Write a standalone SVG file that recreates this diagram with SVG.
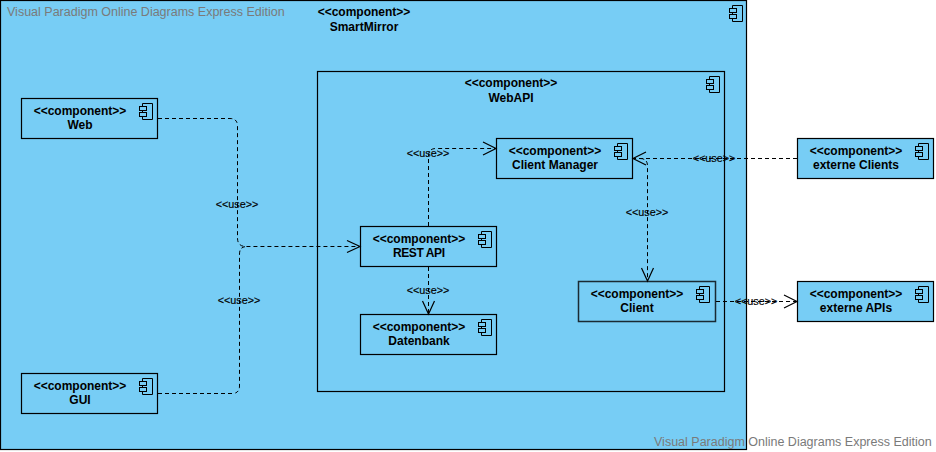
<svg xmlns="http://www.w3.org/2000/svg" width="936" height="452" viewBox="0 0 936 452">
<style>
.box{fill:#77cdf5;stroke:#000;stroke-width:1.2}
.ico{fill:#77cdf5;stroke:#000;stroke-width:1}
.t{font-family:"Liberation Sans",Arial,sans-serif;font-size:12px;font-weight:bold;text-anchor:middle;fill:#000}
.u{font-family:"Liberation Sans",Arial,sans-serif;font-size:10.800px;text-anchor:middle;fill:#000;stroke:#000;stroke-width:.15}
.wm{font-family:"Liberation Sans",Arial,sans-serif;font-size:12.500px;fill:#7a7a7a}
.c{fill:none;stroke:#000;stroke-width:1;stroke-dasharray:4 3}
.h{fill:none;stroke:#000;stroke-width:1.2}
</style>
<defs>
<g id="icon"><path class="ico" d="M3 0H13V16H3Z"/><rect class="ico" x="0" y="3" width="7" height="4"/><rect class="ico" x="0" y="9" width="7" height="4"/></g>
</defs>
<rect width="936" height="452" fill="#fff"/>
<g id="SmartMirror"><rect class="box" x="0.5" y="0.5" width="746" height="449"/><use href="#icon" x="729.5" y="5.500"/><text class="t" x="364" y="16">&lt;&lt;component&gt;&gt;</text><text class="t" x="364" y="31">SmartMirror</text></g>
<g id="WebAPI"><rect class="box" x="317.5" y="71.5" width="407" height="320"/><use href="#icon" x="706.5" y="76.500"/><text class="t" x="511" y="87">&lt;&lt;component&gt;&gt;</text><text class="t" x="511" y="102">WebAPI</text></g>
<g id="Web"><rect class="box" x="21.5" y="98.5" width="136" height="40"/><use href="#icon" x="139.5" y="103.500"/><text class="t" x="80" y="115">&lt;&lt;component&gt;&gt;</text><text class="t" x="80" y="129">Web</text></g>
<g id="GUI"><rect class="box" x="21.5" y="373.5" width="136" height="40"/><use href="#icon" x="139.5" y="378.500"/><text class="t" x="80" y="390">&lt;&lt;component&gt;&gt;</text><text class="t" x="80" y="404">GUI</text></g>
<g id="ClientManager"><rect class="box" x="496.5" y="138.5" width="136" height="40"/><use href="#icon" x="614.5" y="143.500"/><text class="t" x="555" y="155">&lt;&lt;component&gt;&gt;</text><text class="t" x="555" y="169">Client Manager</text></g>
<g id="RESTAPI"><rect class="box" x="360.5" y="226.5" width="136" height="40"/><use href="#icon" x="478.5" y="231.500"/><text class="t" x="419" y="243">&lt;&lt;component&gt;&gt;</text><text class="t" x="419" y="257" textLength="52">REST API</text></g>
<g id="Datenbank"><rect class="box" x="360.5" y="314.5" width="136" height="40"/><use href="#icon" x="478.5" y="319.500"/><text class="t" x="419" y="331">&lt;&lt;component&gt;&gt;</text><text class="t" x="419" y="345">Datenbank</text></g>
<g id="Client"><rect class="box" style="stroke-width:1.500;stroke:#1a2a33" x="578.5" y="281.5" width="137" height="40"/><use href="#icon" x="696.5" y="286.500"/><text class="t" x="637" y="298">&lt;&lt;component&gt;&gt;</text><text class="t" x="637" y="312">Client</text></g>
<g id="externeClients"><rect class="box" x="797.5" y="138.5" width="136" height="40"/><use href="#icon" x="915.5" y="143.500"/><text class="t" x="856" y="155">&lt;&lt;component&gt;&gt;</text><text class="t" x="856" y="169">externe Clients</text></g>
<g id="externeAPIs"><rect class="box" x="797.5" y="281.5" width="136" height="40"/><use href="#icon" x="915.5" y="286.500"/><text class="t" x="856" y="298">&lt;&lt;component&gt;&gt;</text><text class="t" x="856" y="312">externe APIs</text></g>
<g id="connectors">
<path class="c" d="M158 118.500H230Q237.500 118.500 237.500 126V238Q237.500 246.500 246 246.500H360"/>
<path class="c" d="M158 393.500H232Q239.500 393.500 239.500 386V254Q239.500 246.500 247 246.500"/>
<path class="h" d="M347 240.500L360 246.500L347 252.500"/>
<path class="c" d="M428.500 226V156Q428.500 148.500 436 148.500H496"/>
<path class="h" d="M483 142L496 148.500L483 155"/>
<path class="c" d="M428.500 267V314"/>
<path class="h" d="M422.500 301L428.500 314L434.500 301"/>
<path class="c" d="M797 158.500H633"/>
<path class="h" d="M646 152L633 158.500L646 165"/>
<path class="c" d="M640 158.500Q647.500 158.500 647.500 166V281"/>
<path class="h" d="M641.500 268L647.500 281L653.500 268"/>
<path class="c" d="M716 301.500H797"/>
<path class="h" d="M784 295L797 301.500L784 308"/>
</g>
<g id="labels">
<text class="u" x="237" y="208">&lt;&lt;use&gt;&gt;</text>
<text class="u" x="239" y="304">&lt;&lt;use&gt;&gt;</text>
<text class="u" x="428" y="157">&lt;&lt;use&gt;&gt;</text>
<text class="u" x="428" y="294">&lt;&lt;use&gt;&gt;</text>
<text class="u" x="714" y="162">&lt;&lt;use&gt;&gt;</text>
<text class="u" x="647" y="216">&lt;&lt;use&gt;&gt;</text>
<text class="u" x="756" y="305">&lt;&lt;use&gt;&gt;</text>
</g>
<text class="wm" x="7" y="16">Visual Paradigm Online Diagrams Express Edition</text>
<text class="wm" x="654" y="446">Visual Paradigm Online Diagrams Express Edition</text>
</svg>
